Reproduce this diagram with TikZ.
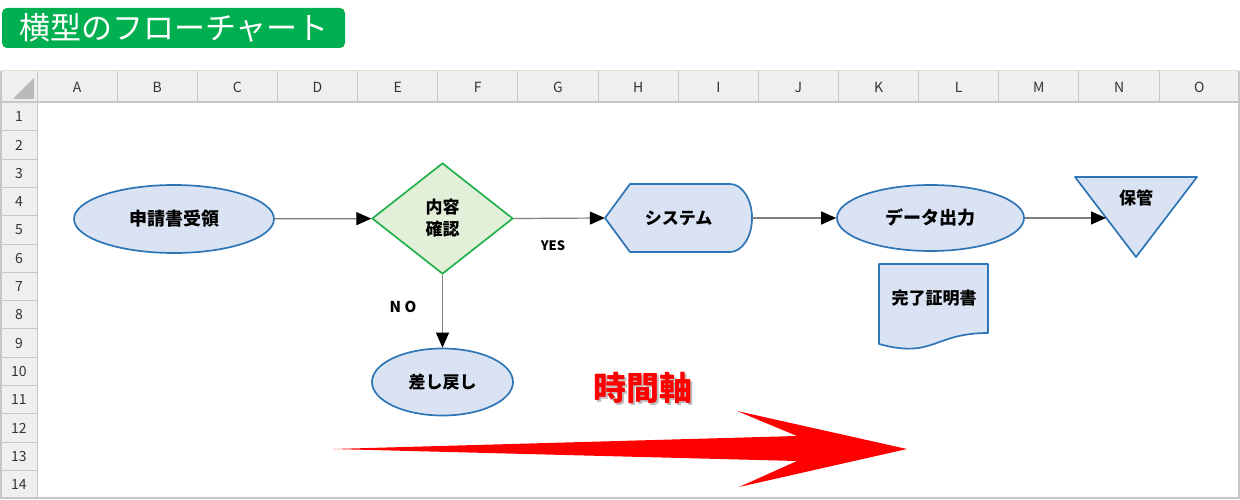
\documentclass[tikz,border=0pt]{standalone}
\usepackage{fontspec}
\setmainfont{Noto Sans CJK JP}
\usetikzlibrary{shapes.geometric,arrows.meta}
\definecolor{shapefill}{HTML}{DAE3F3}
\definecolor{shapeline}{HTML}{2E75B6}
\definecolor{checkfill}{HTML}{E2F0D9}
\definecolor{checkline}{HTML}{22B14C}
\definecolor{titlegreen}{HTML}{00B050}
\definecolor{headfill}{HTML}{EFEFEF}
\definecolor{headline}{HTML}{C6C6C6}
\definecolor{frametop}{HTML}{D6E4CE}
\definecolor{linkgray}{HTML}{7F7F7F}
\tikzset{
  lbl/.style={font=\fontsize{17}{22}\selectfont\bfseries, text=black},
  oval/.style={ellipse, draw=shapeline, fill=shapefill, line width=1.7pt, inner sep=0pt, lbl},
  flowline/.style={draw=shapeline, fill=shapefill, line width=1.7pt, line join=round},
  link/.style={draw=linkgray, line width=1.2pt, -{Triangle[length=15pt,width=13pt,color=black]}},
  hdr/.style={font=\fontsize{14}{14}\selectfont, text=black!80},
}

\begin{document}
\begin{tikzpicture}[x=1pt,y=1pt]
  \useasboundingbox (0,0) rectangle (1240,-500);
  \fill[white] (0,0) rectangle (1240,-500);

  \fill[titlegreen, rounded corners=5pt] (2,-8) rectangle (345,-48);
  \node[text=white, font=\fontsize{31}{31}\selectfont] (title) at (174,-28) {横型のフローチャート};

  \fill[headfill] (1,-71) rectangle (1239,-102);
  \fill[headfill] (1,-102) rectangle (37,-498);
  \fill[gray!55] (13,-99) -- (34,-99) -- (34,-78) -- cycle;
  \foreach \c [count=\i from 0] in {A,B,C,D,E,F,G,H,I,J,K,L,M,N,O} {
    \node[hdr] (col\c) at (77.1+80.15*\i,-87) {\c};
    \draw[headline, line width=1pt] (37+80.15*\i,-71) -- (37+80.15*\i,-102);
  }
  \foreach \r in {1,...,14} {
    \node[hdr] (row\r) at (19,-102.5-28.3*\r+14.15) {\r};
    \draw[headline, line width=1pt] (1,-102.5-28.3*\r) -- (37,-102.5-28.3*\r);
  }
  \draw[frametop, line width=1.5pt] (1,-70.5) -- (1239,-70.5);
  \draw[headline, line width=1.5pt] (1,-102) -- (1239,-102);
  \draw[headline, line width=1pt] (37,-71) -- (37,-498);
  \draw[headline, line width=1.5pt] (1,-71) -- (1,-498) -- (1239,-498) -- (1239,-71);

  \node[oval, minimum width=200pt, minimum height=68pt, font=\fontsize{18}{18}\selectfont\bfseries] (apply) at (174,-219) {申請書受領};
  \node[diamond, draw=checkline, fill=checkfill, line width=1.7pt, minimum width=141pt, minimum height=111pt, inner sep=0pt, align=center, lbl] (check) at (442.5,-218.5) {内容\\確認};
  \node[oval, minimum width=141pt, minimum height=67pt] (back) at (442.5,-382) {差し戻し};

  \draw[flowline] (605,-218) -- (630,-184) -- (730,-184) .. controls (742.1,-184) and (752,-199.2) .. (752,-218) .. controls (752,-236.8) and (742.1,-252) .. (730,-252) -- (630,-252) -- cycle;
  \node[lbl, minimum width=147pt, minimum height=68pt, inner sep=0pt] (sys) at (678.5,-218) {システム};

  \node[oval, minimum width=187pt, minimum height=66pt, font=\fontsize{18}{18}\selectfont\bfseries] (data) at (930.5,-218) {データ出力};

  \draw[flowline] (879,-264) -- (988,-264) -- (988,-333) .. controls (933.5,-333) and (933.5,-359) .. (879,-344) -- cycle;
  \node[lbl] (cert) at (934,-298) {完了証明書};

  \draw[flowline] (1075,-177) -- (1197,-177) -- (1136,-257) -- cycle;
  \node[lbl] (store) at (1136,-198) {保管};
  \coordinate (storein) at (1106,-218);

  \node[lbl, font=\fontsize{13}{13}\selectfont\bfseries] (yes) at (553,-246) {YES};
  \node[lbl, font=\fontsize{15}{15}\selectfont\bfseries] (no) at (403,-307) {N O};

  \draw[link] (apply) -- (check);
  \draw[link] (check.east) -- (sys.west);
  \draw[link] (sys.east) -- (data);
  \draw[link] (data) -- (storein);
  \draw[link] (check) -- (back);

  \node[text=black!25, font=\fontsize{33}{33}\selectfont\bfseries] (axisshadow) at (645,-390) {時間軸};
  \node[text=red, font=\fontsize{33}{33}\selectfont\bfseries] (axis) at (643,-388) {時間軸};
  \fill[red] (333,-449) -- (797,-436) -- (737,-411) -- (907,-449) -- (739,-487) -- (797,-461) -- cycle;
\end{tikzpicture}
\end{document}
